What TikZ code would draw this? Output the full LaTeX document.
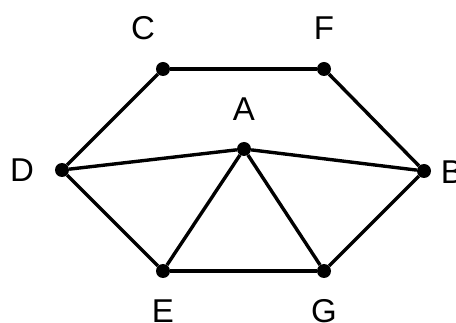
\documentclass[tikz,border=0pt]{standalone}
\usepackage{fontspec}
\setmainfont{Liberation Sans}
\begin{document}
\begin{tikzpicture}[x=1pt,y=-1pt,
  vtx/.style={circle,fill=black,inner sep=0pt,minimum size=14pt},
  lbl/.style={font=\fontsize{33}{33}\selectfont,inner sep=0pt},
  edge/.style={line width=3.4pt}]
\useasboundingbox (0,0) rectangle (456,323);
\fill[white] (0,0) rectangle (456,323);
\node[vtx] (C) at (163,69) {};
\node[vtx] (F) at (324,69) {};
\node[vtx] (A) at (244,149) {};
\node[vtx] (D) at (62,170) {};
\node[vtx] (B) at (424,171) {};
\node[vtx] (E) at (163,271) {};
\node[vtx] (G) at (324,271) {};
\node[lbl] (lC) at (143,28) {C};
\node[lbl] (lF) at (324,28) {F};
\node[lbl] (lA) at (244,109) {A};
\node[lbl] (lD) at (22,170) {D};
\node[lbl] (lB) at (452,172) {B};
\node[lbl] (lE) at (163,311) {E};
\node[lbl] (lG) at (324,311) {G};
\draw[edge] (C) -- (F);
\draw[edge] (C) -- (D);
\draw[edge] (F) -- (B);
\draw[edge] (D) -- (A);
\draw[edge] (A) -- (B);
\draw[edge] (D) -- (E);
\draw[edge] (E) -- (A);
\draw[edge] (A) -- (G);
\draw[edge] (E) -- (G);
\draw[edge] (G) -- (B);
\end{tikzpicture}
\end{document}
